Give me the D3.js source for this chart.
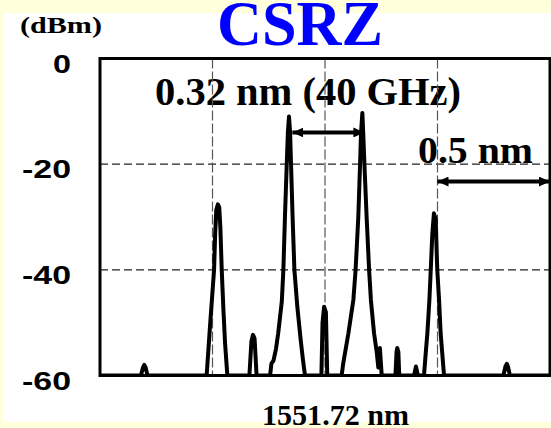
<!DOCTYPE html>
<html>
<head>
<meta charset="utf-8">
<script src="https://cdn.jsdelivr.net/npm/d3@7"></script>
<style>
  html, body { margin: 0; padding: 0; background: #ffffdc; }
  svg { display: block; }
</style>
</head>
<body>
<svg id="chart" width="551" height="428"></svg>
<script>
// spectrum trace (nm, dBm)
const wavelengths = [
  1550.720, 1550.902, 1550.911, 1550.917, 1550.923, 1550.931,
  1551.194, 1551.210, 1551.227, 1551.232, 1551.237, 1551.244, 1551.250, 1551.255, 1551.261, 1551.269, 1551.276, 1551.286,
  1551.384, 1551.393, 1551.400, 1551.407, 1551.416,
  1551.476, 1551.482, 1551.491, 1551.502, 1551.512, 1551.528, 1551.535, 1551.542, 1551.550, 1551.555, 1551.560,
  1551.565, 1551.569, 1551.576, 1551.584, 1551.597, 1551.612, 1551.622, 1551.631,
  1551.704, 1551.709, 1551.716, 1551.724, 1551.730,
  1551.794, 1551.801, 1551.824, 1551.846, 1551.856, 1551.868, 1551.876, 1551.880, 1551.886,
  1551.890, 1551.895, 1551.905, 1551.916, 1551.924, 1551.938, 1551.950, 1551.957, 1551.964, 1551.972,
  1552.033, 1552.038, 1552.041, 1552.046, 1552.050,
  1552.116, 1552.124, 1552.133,
  1552.160, 1552.168, 1552.175, 1552.184, 1552.190, 1552.197, 1552.204, 1552.212, 1552.216, 1552.219, 1552.227, 1552.234, 1552.249,
  1552.513, 1552.522, 1552.528, 1552.533, 1552.542, 1552.720
]
const powers = [
  -60, -60, -58.5, -58, -58.5, -60,
  -60, -50, -40, -33, -28.6, -27.6, -28.2, -32, -40, -48, -54, -60,
  -60, -53.5, -52.3, -53, -60,
  -60, -57.7, -57.2, -55, -52, -46, -40, -30, -20, -14, -11,
  -14, -20, -30, -40, -47, -53.3, -57, -60,
  -60, -50, -47, -48, -60,
  -60, -57.7, -52, -45.7, -40, -30, -19.8, -14.2, -10.3,
  -14.2, -19.8, -30, -40, -45.7, -52, -55.6, -58.5, -54.8, -60,
  -60, -55.5, -54.8, -55.5, -60,
  -60, -58.3, -60,
  -60, -55.6, -52, -45.7, -40, -33.2, -29.3, -30.4, -36.1, -40, -45.7, -52, -60,
  -60, -58.3, -57.8, -58.3, -60, -60
]

const yTicks = [0, -20, -40, -60]
const gridY = [-20, -40]
const gridX = [1551.22, 1551.72, 1552.22]
const xDomain = [1550.72, 1552.72]
const yDomain = [-60, 0]

// annotation arrows
const spacingArrow = [1551.575, 1551.895]
const spacingLevel = -14
const windowArrow = [1552.22, 1552.72]
const windowLevel = -23.3

const svg = d3.select('#chart')

const plotLeft = 100, plotRight = 550, plotTop = 58.5, plotBottom = 375.5

const x = d3.scaleLinear().domain(xDomain).range([plotLeft, plotRight])
const y = d3.scaleLinear().domain(yDomain).range([plotBottom, plotTop])

svg.append('rect')
    .attr('x', 3).attr('y', 13)
    .attr('width', 548).attr('height', 409)
    .attr('fill', '#fff')

const defs = svg.append('defs')

defs.append('clipPath').attr('id', 'plot-clip')
  .append('rect')
    .attr('x', plotLeft).attr('y', plotTop)
    .attr('width', plotRight - plotLeft).attr('height', plotBottom - plotTop)

defs.append('marker')
    .attr('id', 'head')
    .attr('markerUnits', 'userSpaceOnUse')
    .attr('markerWidth', 12).attr('markerHeight', 10)
    .attr('refX', 11).attr('refY', 5)
    .attr('orient', 'auto-start-reverse')
  .append('path')
    .attr('d', 'M0,0 L11,5 L0,10 Z')
    .attr('fill', '#000')

const serif = '"Liberation Serif", "Times New Roman", serif'
const sans = '"Liberation Sans", Arial, sans-serif'

// texts
function label(str, tx, ty, size, len, color, font) {
  return svg.append('text')
      .attr('x', tx).attr('y', ty)
      .attr('font-family', font || serif)
      .attr('font-weight', 'bold')
      .attr('font-size', size)
      .attr('fill', color || '#000')
      .attr('textLength', len)
      .attr('lengthAdjust', 'spacingAndGlyphs')
      .text(str)
}

label('CSRZ', 217, 45, 64, 166, '#0000ff')
label('(dBm)', 20, 33, 23, 82)
label('0.32 nm (40 GHz)', 155, 105, 40, 306)
label('0.5 nm', 418, 163, 38, 115)
label('1551.72 nm', 262, 425, 30, 147)

// grid
const grid = svg.append('g').attr('clip-path', 'url(#plot-clip)')

grid.selectAll('.gy')
  .data(gridY)
  .join('line')
    .attr('class', 'gy')
    .attr('x1', plotLeft).attr('x2', plotRight)
    .attr('y1', d => y(d)).attr('y2', d => y(d))
    .attr('stroke', '#222')
    .attr('stroke-width', 1.2)
    .attr('stroke-dasharray', '8,4')

grid.selectAll('.gx')
  .data(gridX)
  .join('line')
    .attr('class', 'gx')
    .attr('x1', d => x(d)).attr('x2', d => x(d))
    .attr('y1', plotTop).attr('y2', plotBottom)
    .attr('stroke', '#555')
    .attr('stroke-width', 1.2)
    .attr('stroke-dasharray', '10,3')

// spectrum
const trace = wavelengths.map((w, i) => [w, powers[i]])

svg.append('path')
    .datum(trace)
    .attr('clip-path', 'url(#plot-clip)')
    .attr('fill', 'none')
    .attr('stroke', '#000')
    .attr('stroke-width', 4)
    .attr('stroke-linejoin', 'round')
    .attr('stroke-linecap', 'round')
    .attr('d', d3.line().x(d => x(d[0])).y(d => y(d[1])))

// frame
svg.append('rect')
    .attr('x', plotLeft).attr('y', plotTop)
    .attr('width', plotRight - plotLeft).attr('height', plotBottom - plotTop)
    .attr('fill', 'none')
    .attr('stroke', '#000')
    .attr('stroke-width', 3)

// y axis labels (plain hyphen, as on the slide)
const yAxis = d3.axisLeft(y)
    .tickValues(yTicks)
    .tickSize(0)
    .tickPadding(29)
    .tickFormat(d => String(d))

const ya = svg.append('g')
    .attr('transform', `translate(${plotLeft},0)`)
    .call(yAxis)

ya.select('.domain').remove()
ya.selectAll('text')
    .attr('font-family', sans)
    .attr('font-weight', 'bold')
    .attr('font-size', 26)
    .attr('fill', '#000')
    .attr('dy', '0.52em')
    .attr('textLength', d => d === 0 ? 18 : 49)
    .attr('lengthAdjust', 'spacingAndGlyphs')

// arrows
function arrow(span, level) {
  svg.append('line')
      .attr('x1', x(span[0])).attr('x2', x(span[1]))
      .attr('y1', y(level)).attr('y2', y(level))
      .attr('stroke', '#000')
      .attr('stroke-width', 4)
      .attr('marker-start', 'url(#head)')
      .attr('marker-end', 'url(#head)')
}

arrow(spacingArrow, spacingLevel)
arrow(windowArrow, windowLevel)
</script>
</body>
</html>
